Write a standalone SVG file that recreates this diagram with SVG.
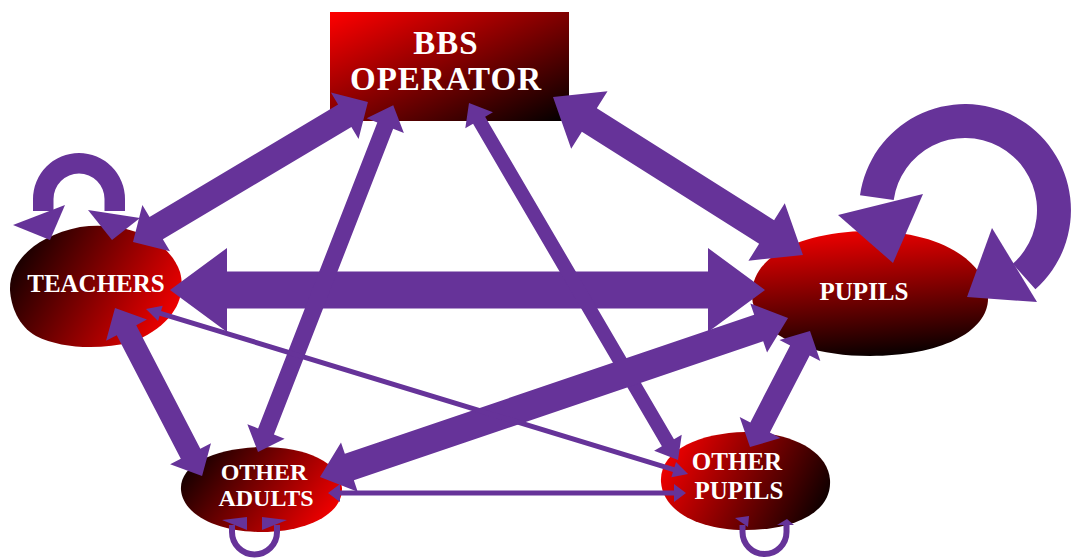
<svg xmlns="http://www.w3.org/2000/svg" width="1071" height="560" viewBox="0 0 1071 560">
  <defs>
    <linearGradient id="gBbs" x1="0" y1="0" x2="1" y2="1">
      <stop offset="0" stop-color="#ff0000"/>
      <stop offset="1" stop-color="#000000"/>
    </linearGradient>
    <linearGradient id="gDarkLeft" x1="0" y1="0.2" x2="1" y2="0.6">
      <stop offset="0" stop-color="#0a0000"/>
      <stop offset="1" stop-color="#ee0000"/>
    </linearGradient>
    <linearGradient id="gDarkRight" x1="0" y1="0.4" x2="1" y2="0.7">
      <stop offset="0" stop-color="#ee0000"/>
      <stop offset="1" stop-color="#0a0000"/>
    </linearGradient>
    <linearGradient id="gDarkBottom" x1="0.35" y1="0" x2="0.5" y2="1">
      <stop offset="0" stop-color="#ee0000"/>
      <stop offset="1" stop-color="#0a0000"/>
    </linearGradient>
    <style>
      .lbl { font-family: "Liberation Serif", "DejaVu Serif", serif; font-weight: bold; fill: #ffffff; text-anchor: middle; }
      .big { font-size: 33px; letter-spacing: 1px; }
      .small { font-size: 25px; }
      .pair { font-size: 24px; }
      .arrow { fill: #663399; stroke: none; }
      .ring { fill: none; stroke: #663399; stroke-width: 6; }
    </style>
  </defs>

  <rect width="1071" height="560" fill="#ffffff"/>

  <!-- nodes -->
  <g id="node-bbs-operator">
    <rect x="330" y="12" width="239" height="109" fill="url(#gBbs)"/>
    <text class="lbl big" x="446" y="54">BBS</text>
    <text class="lbl big" x="446" y="90">OPERATOR</text>
  </g>

  <g id="node-teachers">
    <path d="M10,290 C9,262 35,236 80,227 C125,221 168,238 180,272 C188,302 168,328 132,342 C100,350 62,349 36,336 C18,326 11,306 10,290 Z" fill="url(#gDarkLeft)"/>
    <text class="lbl small" x="96" y="292">TEACHERS</text>
  </g>

  <g id="node-pupils">
    <path d="M752,292 C754,256 800,232 868,231 C936,231 984,258 988,296 C990,332 940,356 870,356 C800,356 750,330 752,292 Z" fill="url(#gDarkBottom)"/>
    <text class="lbl small" x="864" y="300">PUPILS</text>
  </g>

  <g id="node-other-adults">
    <path d="M181,490 C179,465 214,448 262,447 C306,447 340,462 342,488 C343,515 305,532 262,532 C218,532 183,515 181,490 Z" fill="url(#gDarkLeft)"/>
    <text class="lbl pair" x="264" y="480">OTHER</text>
    <text class="lbl pair" x="266" y="506">ADULTS</text>
  </g>

  <g id="node-other-pupils">
    <path d="M661,482 C659,450 700,433 745,432 C790,432 828,450 830,480 C832,512 795,530 745,530 C700,530 663,512 661,482 Z" fill="url(#gDarkRight)"/>
    <text class="lbl small" x="737" y="470">OTHER</text>
    <text class="lbl small" x="739" y="499">PUPILS</text>
  </g>

  <!-- connectors -->
  <g id="connectors">
    <!-- teachers <-> pupils -->
    <path class="arrow" transform="translate(170,290)" d="M0,0 L57,-42 L57,-18.5 L538,-18.5 L538,-42 L595,0 L538,42 L538,18.5 L57,18.5 L57,42 Z"/>
    <!-- teachers <-> bbs operator -->
    <path class="arrow" transform="translate(133,242) rotate(-30.8)" d="M0,0 L27,-27 L27,-13 L246.5,-13 L246.5,-27 L273.5,0 L246.5,27 L246.5,13 L27,13 L27,27 Z"/>
    <!-- other adults <-> bbs operator -->
    <path class="arrow" transform="translate(258,452) rotate(-68.7)" d="M0,0 L22,-20 L22,-8.5 L350.3,-8.5 L350.3,-20 L372.3,0 L350.3,20 L350.3,8.5 L22,8.5 L22,20 Z"/>
    <!-- bbs operator <-> other pupils -->
    <path class="arrow" transform="translate(469,103) rotate(59.65)" d="M0,0 L20,-16 L20,-7 L393.7,-7 L393.7,-16 L413.7,0 L393.7,16 L393.7,7 L20,7 L20,16 Z"/>
    <!-- bbs operator <-> pupils -->
    <path class="arrow" transform="translate(553,97) rotate(32.3)" d="M0,0 L43,-34 L43,-14 L252.7,-14 L252.7,-34 L295.7,0 L252.7,34 L252.7,14 L43,14 L43,34 Z"/>
    <!-- teachers <-> other adults -->
    <path class="arrow" transform="translate(115,308) rotate(62.6)" d="M0,0 L25,-23 L25,-11 L164.2,-11 L164.2,-23 L189.2,0 L164.2,23 L164.2,11 L25,11 L25,23 Z"/>
    <!-- other pupils <-> pupils -->
    <path class="arrow" transform="translate(750,447) rotate(-62.65)" d="M0,0 L22,-23 L22,-11 L108.6,-11 L108.6,-23 L130.6,0 L108.6,23 L108.6,11 L22,11 L22,23 Z"/>
    <!-- other adults <-> pupils -->
    <path class="arrow" transform="translate(320,477) rotate(-18.76)" d="M0,0 L31,-26 L31,-14 L463.3,-14 L463.3,-26 L494.3,0 L463.3,26 L463.3,14 L31,14 L31,26 Z"/>
    <!-- teachers <-> other pupils -->
    <path class="arrow" transform="translate(146,309) rotate(16.93)" d="M0,0 L15,-8 L15,-2.5 L551.6,-2.5 L551.6,-8 L566.6,0 L551.6,8 L551.6,2.5 L15,2.5 L15,8 Z"/>
    <!-- other adults <-> other pupils -->
    <path class="arrow" transform="translate(328,493)" d="M0,0 L12,-9 L12,-2.5 L346,-2.5 L346,-9 L358,0 L346,9 L346,2.5 L12,2.5 L12,9 Z"/>

    <!-- teachers self loop -->
    <path class="arrow" d="M33,211 L33,199 A46,46 0 0 1 125,199 L125,211 L104.5,211 L104.5,199 A25.5,25.5 0 0 0 53.5,199 L53.5,211 Z"/>
    <path class="arrow" d="M13,225 L65,205 L50,240 Z"/>
    <path class="arrow" d="M88,210 L140,218 L112,240 Z"/>

    <!-- pupils self loop -->
    <path class="arrow" d="M860,195.2 A106,106 0 1 1 1035.4,289.3 L1012.8,263.8 A72,72 0 1 0 893.7,200 Z"/>
    <path class="arrow" d="M838,215 L923,194 L893,263 Z"/>
    <path class="arrow" d="M992,228 L1037,302 L967,297 Z"/>

    <!-- other adults self loop -->
    <path class="ring" d="M232,525 L232,532 A22.5,22.5 0 0 0 277,532 L277,525"/>
    <path class="arrow" d="M222,520 L247,517 L247,530 Z"/>
    <path class="arrow" d="M287,520 L262,517 L262,530 Z"/>

    <!-- other pupils self loop -->
    <path class="ring" d="M742.5,525 L742.5,532 A22,22 0 0 0 786.5,532 L786.5,525"/>
    <path class="arrow" d="M735,518 L749,516 L748,527 Z"/>
    <path class="arrow" d="M777,525 L787,519 L794,525 Z"/>
  </g>
</svg>
